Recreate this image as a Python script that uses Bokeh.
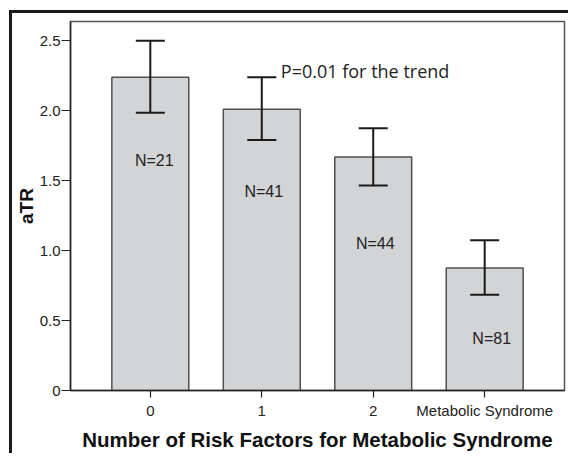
from bokeh.plotting import figure
from bokeh.models import (Range1d, FixedTicker, ColumnDataSource, Whisker, TeeHead,
                          LabelSet, Label)
from bokeh.core.properties import value
from bokeh.embed import file_html
from bokeh.resources import INLINE

# ---- data ----
categories = ["0", "1", "2", "Metabolic Syndrome"]
means = [2.24, 2.01, 1.67, 0.875]
upper = [2.50, 2.24, 1.875, 1.075]
lower = [1.985, 1.79, 1.465, 0.685]
n_labels = ["N=21", "N=41", "N=44", "N=81"]
y_ticks = [0, 0.5, 1.0, 1.5, 2.0, 2.5]
y_tick_labels = ["0", "0.5", "1.0", "1.5", "2.0", "2.5"]
x_title = "Number of Risk Factors for Metabolic Syndrome"
y_title = "aTR"
note = "P=0.01 for the trend"

# layout-only values (label placement)
n_label_y = [1.643, 1.421, 1.05, 0.371]
n_label_dx = [4, 2, 2, 7]

xs = list(range(len(categories)))
src = ColumnDataSource(dict(x=xs, top=means, upper=upper, lower=lower,
                            lab=n_labels, ly=n_label_y, dx=n_label_dx))

# canvas starts at (12, 13) inside a black left/top frame drawn with CSS
p = figure(width=559, height=443, x_range=Range1d(-0.716, 3.716), y_range=Range1d(0, 2.638),
           output_backend="svg", toolbar_location=None,
           min_border_left=57, min_border_right=7, min_border_top=8, min_border_bottom=66)
p.styles = {"margin-left": "9px", "margin-top": "10px",
            "border-left": "3px solid #1a1a1a", "border-top": "3px solid #1a1a1a"}
p.background_fill_color = "white"
p.border_fill_color = "white"
p.outline_line_color = "#555555"
p.outline_line_width = 1.5
p.xgrid.visible = False
p.ygrid.visible = False

p.vbar(x="x", top="top", bottom=0, width=0.69, source=src,
       fill_color="#d3d4d6", line_color="#505050", line_width=1.5)

w = Whisker(base="x", upper="upper", lower="lower", source=src, dimension="height",
            line_color="#1a1a1a", line_width=2, level="overlay",
            upper_head=TeeHead(size=29, line_color="#1a1a1a", line_width=2),
            lower_head=TeeHead(size=29, line_color="#1a1a1a", line_width=2))
p.add_layout(w)

p.add_layout(LabelSet(x="x", y="ly", text="lab", source=src, x_offset="dx",
                      text_align="center", text_baseline="middle",
                      text_font=value("Liberation Sans"), text_font_size="16px",
                      text_color="#222222"))

p.add_layout(Label(x=1.171, y=2.281, text=note, text_font="Open Sans", text_font_size="18px",
                   text_baseline="alphabetic", text_align="left", text_color="#222222"))

# x axis
xa = p.xaxis[0]
xa.ticker = FixedTicker(ticks=xs)
xa.major_label_overrides = {i: c for i, c in enumerate(categories)}
xa.minor_tick_line_color = None
xa.major_tick_out = 7
xa.major_tick_in = 0
xa.major_label_standoff = 4
xa.major_label_text_font = "Liberation Sans"
xa.major_label_text_font_size = "15px"
xa.major_label_text_color = "#222222"
xa.axis_line_color = "#222222"
xa.axis_line_width = 1.5
xa.major_tick_line_color = "#222222"
xa.major_tick_line_width = 1.2
xa.axis_label = x_title
xa.axis_label_text_font = "Liberation Sans"
xa.axis_label_text_font_style = "bold"
xa.axis_label_text_font_size = "20.5px"
xa.axis_label_text_color = "#111111"
xa.axis_label_standoff = 6

# y axis
ya = p.yaxis[0]
ya.ticker = FixedTicker(ticks=y_ticks)
ya.major_label_overrides = {t: l for t, l in zip(y_ticks, y_tick_labels)}
ya.minor_tick_line_color = None
ya.major_tick_out = 9
ya.major_tick_in = 0
ya.major_label_standoff = 1
ya.major_label_text_font = "Liberation Sans"
ya.major_label_text_font_size = "15px"
ya.major_label_text_color = "#222222"
ya.axis_line_color = "#222222"
ya.axis_line_width = 1.5
ya.major_tick_line_color = "#222222"
ya.major_tick_line_width = 1.2
ya.axis_label = y_title
ya.axis_label_text_font = "Liberation Sans"
ya.axis_label_text_font_style = "bold"
ya.axis_label_text_font_size = "19px"
ya.axis_label_text_color = "#111111"
ya.axis_label_standoff = 0

open("out.html", "w").write(file_html(p, INLINE))
